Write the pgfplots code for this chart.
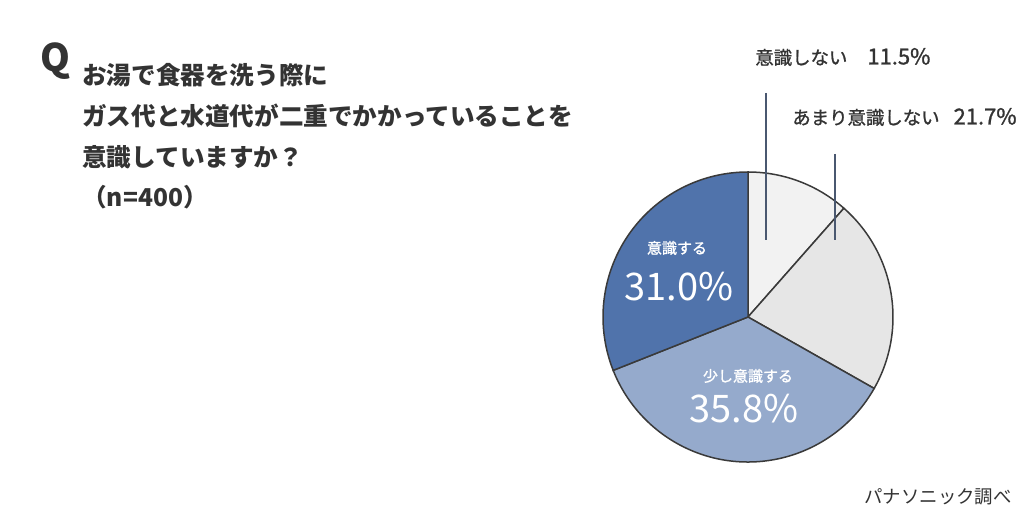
\documentclass[border=0pt]{standalone}
\usepackage{fontspec}
\setmainfont{Noto Sans CJK JP}
\newfontfamily\jpmed[FakeBold=1.2]{Noto Sans CJK JP}
\usepackage{pgfplots}
\pgfplotsset{compat=1.18}

\definecolor{txt}{HTML}{333333}
\definecolor{edge}{HTML}{3A3A3A}
\definecolor{leader}{HTML}{4A5870}
\definecolor{sA}{HTML}{F2F2F2}
\definecolor{sB}{HTML}{E6E6E6}
\definecolor{sC}{HTML}{95AACC}
\definecolor{sD}{HTML}{5073AB}

% 1 axis unit = 1 px of the 1024x520 reference, pie centre (748,203), r=145px
\newcommand{\R}{72.5pt}

\begin{document}
\begin{tikzpicture}
\begin{axis}[
    width=512pt, height=260pt, scale only axis,
    xmin=0, xmax=1024, ymin=0, ymax=520,
    axis lines=none, clip=false,
]
    % slices, clockwise from 12 o'clock (values in %)
    \filldraw[fill=sA, draw=edge, line width=0.75pt] (axis cs:748,203) -- ++(90:\R)
        arc[start angle=90, delta angle=-3.6*11.5, radius=\R] -- cycle;
    \filldraw[fill=sB, draw=edge, line width=0.75pt] (axis cs:748,203) -- ++({90-3.6*11.5}:\R)
        arc[start angle={90-3.6*11.5}, delta angle=-3.6*21.7, radius=\R] -- cycle;
    \filldraw[fill=sC, draw=edge, line width=0.75pt] (axis cs:748,203) -- ++({90-3.6*33.2}:\R)
        arc[start angle={90-3.6*33.2}, delta angle=-3.6*35.8, radius=\R] -- cycle;
    \filldraw[fill=sD, draw=edge, line width=0.75pt] (axis cs:748,203) -- ++({90-3.6*69.0}:\R)
        arc[start angle={90-3.6*69.0}, delta angle=-3.6*31.0, radius=\R] -- cycle;

    % leader lines
    \draw[leader, line width=0.75pt] (axis cs:766,427) -- (axis cs:766,280);
    \draw[leader, line width=0.75pt] (axis cs:835,366) -- (axis cs:835,280);

    % outside labels
    \node[anchor=west, inner sep=0pt, text=txt, font=\jpmed\fontsize{9.2}{10}\selectfont]
        at (axis cs:755,463) {意識しない\hspace{10pt}{\fontsize{11}{12}\selectfont 11.5\%}};
    \node[anchor=west, inner sep=0pt, text=txt, font=\jpmed\fontsize{9.2}{10}\selectfont]
        at (axis cs:792,403) {あまり意識しない\hspace{7pt}{\fontsize{11}{12}\selectfont 21.7\%}};

    % inside labels
    \node[inner sep=0pt, text=white, font=\jpmed\fontsize{7.5}{9}\selectfont]
        at (axis cs:677,272) {意識する};
    \node[inner sep=0pt, text=white, font=\fontsize{19}{22}\selectfont]
        at (axis cs:679,233) {31.0\%};
    \node[inner sep=0pt, text=white, font=\jpmed\fontsize{7.5}{9}\selectfont]
        at (axis cs:748,144) {少し意識する};
    \node[inner sep=0pt, text=white, font=\fontsize{19}{22}\selectfont]
        at (axis cs:744,111) {35.8\%};

    % question
    \node[inner sep=0pt, text=txt, font=\bfseries\fontsize{19}{22}\selectfont]
        at (axis cs:55,459) {Q};
    \node[anchor=west, inner sep=0pt, text=txt, font=\bfseries\fontsize{12.3}{14}\selectfont]
        at (axis cs:82,445) {お湯で食器を洗う際に};
    \node[anchor=west, inner sep=0pt, text=txt, font=\bfseries\fontsize{12.3}{14}\selectfont]
        at (axis cs:82,404) {ガス代と水道代が二重でかかっていることを};
    \node[anchor=west, inner sep=0pt, text=txt, font=\bfseries\fontsize{12.3}{14}\selectfont]
        at (axis cs:82,363) {意識していますか？};
    \node[anchor=west, inner sep=0pt, text=txt, font=\bfseries\fontsize{12.3}{14}\selectfont]
        at (axis cs:82,323) {（n=400）};

    % source
    \node[anchor=east, inner sep=0pt, text=txt, font=\fontsize{9.2}{11}\selectfont]
        at (axis cs:1012,23) {パナソニック調べ};
\end{axis}
\pgfresetboundingbox
\useasboundingbox (current axis.south west) rectangle (current axis.north east);
\end{tikzpicture}
\end{document}
